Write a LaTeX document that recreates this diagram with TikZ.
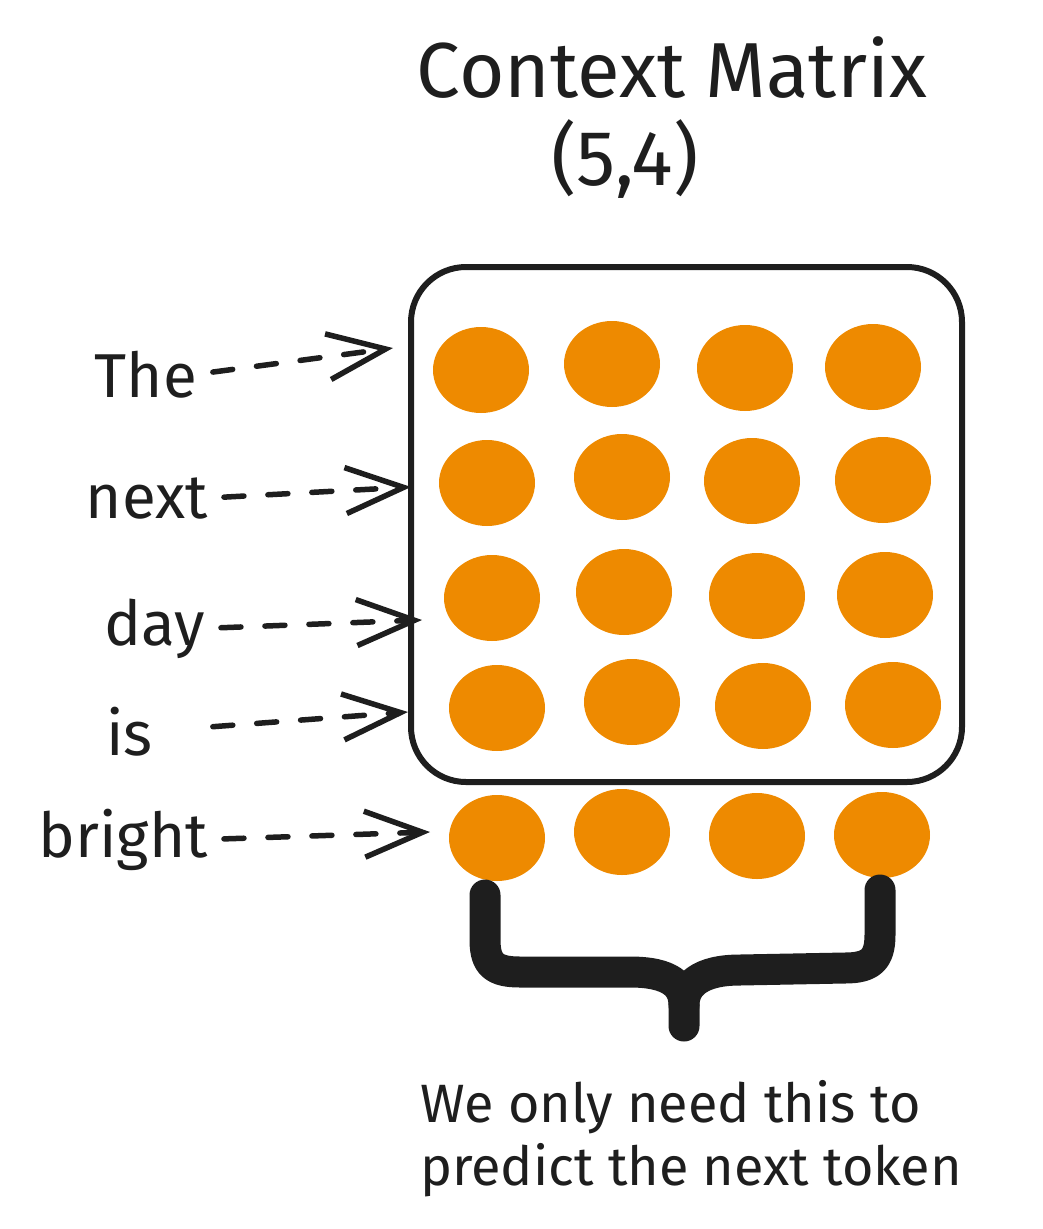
\documentclass[tikz,border=0pt]{standalone}
\usepackage{fontspec}
\setmainfont{Fira Sans}
\usetikzlibrary{arrows.meta,shapes.geometric}

\definecolor{dotorange}{HTML}{EE8A00}
\definecolor{inkblack}{HTML}{1E1E1E}

\tikzset{
    dot/.style={ellipse, fill=dotorange, minimum width=96pt, minimum height=86pt, inner sep=0pt},
    word/.style={font=\fontsize{62}{70}\selectfont, inner sep=0pt, text=inkblack},
    tokenarrow/.style={draw=inkblack, line width=5.5pt, line cap=round, dash pattern=on 20pt off 24pt,
        -{Straight Barb[length=58pt, width=46pt, line width=5.5pt]}, shorten <=16pt}
}

\begin{document}
\begin{tikzpicture}[x=1pt, y=-1pt]

        \useasboundingbox (0,0) rectangle (1042,1229);

        \node[word, font=\fontsize{78}{92}\selectfont, anchor=base] (title) at (672,97) {Context Matrix};
        \node[word, font=\fontsize{78}{92}\selectfont, anchor=base] (shape) at (625,185) {(5,4)};

        \draw[line width=6pt, draw=inkblack, rounded corners=55pt] (411,267) rectangle (962,782);

        % #######################################

        \foreach \r/\y/\xa/\xb/\xc/\xd in {1/370/481/612/745/873, 2/483/487/622/752/883,
                3/598/492/624/757/885, 4/708/497/632/763/893, 5/838/497/622/757/882} {
            \node[dot] (d\r-1) at (\xa,\y) {};
            \node[dot] (d\r-2) at (\xb,\y-6) {};
            \node[dot] (d\r-3) at (\xc,\y-2) {};
            \node[dot] (d\r-4) at (\xd,\y-3) {};
        }

        % #######################################

        \node[word, anchor=base east] (the) at (197,397) {The};
        \node[word, anchor=base east] (next) at (208,518) {next};
        \node[word, anchor=base east] (day) at (205,645) {day};
        \node[word, anchor=base east] (is) at (153,755) {is};
        \node[word, anchor=base east] (bright) at (208,857) {bright};

        \coordinate (inThe) at (393,348);
        \coordinate (inNext) at (411,487);
        \coordinate (inDay) at (422,620);
        \coordinate (inIs) at (408,712);
        \coordinate (inBright) at (430,832);

        \draw[tokenarrow] (the.east) -- (inThe);
        \draw[tokenarrow] (next.east) -- (inNext);
        \draw[tokenarrow] (day.east) -- (inDay);
        \draw[tokenarrow, shorten <=60pt] (is.east) -- (inIs);
        \draw[tokenarrow] (bright.east) -- (inBright);

        % #######################################

        \draw[line width=31pt, draw=inkblack, line cap=round, line join=round]
        (485,895) -- (485,940) .. controls (485,965) and (495,972) .. (520,972)
        -- (630,972) .. controls (670,972) and (684,985) .. (684,1005) -- (684,1026);
        \draw[line width=31pt, draw=inkblack, line cap=round, line join=round]
        (880,890) -- (880,935) .. controls (880,960) and (870,968) .. (845,968)
        -- (740,970) .. controls (700,970) and (684,985) .. (684,1005);

        \node[word, font=\fontsize{54}{63}\selectfont, anchor=base west, align=left] (note) at (420,1185)
        {We only need this to\\predict the next token};

    \end{tikzpicture}
\end{document}
